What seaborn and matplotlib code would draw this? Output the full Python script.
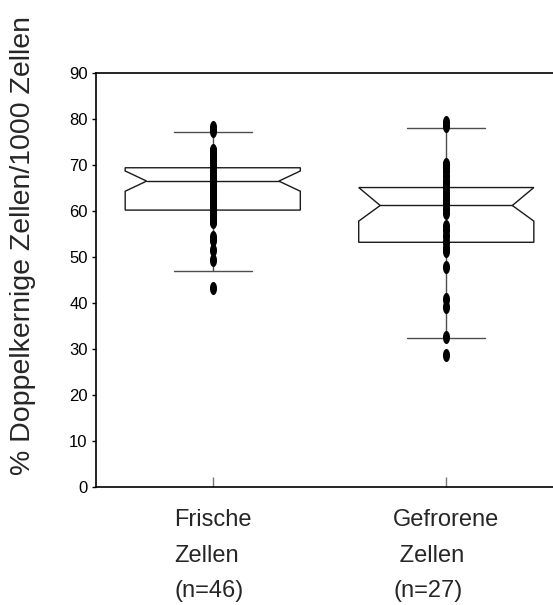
import numpy as np
import pandas as pd
import matplotlib
matplotlib.use("Agg")
import matplotlib.pyplot as plt
from matplotlib.path import Path
import seaborn as sns

# Groups (tick labels) and individual counts per group
groups = ["Frische\nZellen\n(n=46)", "Gefrorene\n Zellen\n(n=27)"]

frische = [78.2, 77.4,
           73.3, 73.0, 72.8, 72.3, 71.8, 71.3, 70.8, 70.3, 70.0, 69.5,
           69.0, 68.7, 68.3, 68.0, 67.6, 67.2, 66.8, 66.5, 66.2, 65.8,
           65.4, 65.0, 64.6, 64.2, 63.8, 63.4, 63.0, 62.5, 62.0, 61.5,
           61.0, 60.5, 60.0, 59.6, 59.2, 58.8, 58.3, 57.9, 57.5,
           54.4, 53.6, 51.5, 49.3, 43.3]

gefroren = [79.3, 78.5,
            70.3, 70.0, 69.5, 68.8, 67.5, 66.5, 66.0, 65.2, 64.2, 63.2,
            62.4, 61.5, 60.5, 59.6,
            56.8, 55.8, 54.5, 53.2, 52.0, 51.2,
            47.8, 40.8, 39.2, 32.6, 28.6]

# Box statistics per group
q1 = [60.2, 53.2]
median = [66.5, 61.2]
q3 = [69.4, 65.1]
notch_lo = [64.3, 57.8]
notch_hi = [68.7, 65.1]
whisker_lo = [47.0, 32.5]
whisker_hi = [77.2, 78.1]

y_ticks = list(range(0, 100, 10))

sns.set_style("ticks")
plt.rcParams["font.family"] = ["Liberation Sans", "DejaVu Sans"]

df = pd.DataFrame({
    "Gruppe": [groups[0]] * len(frische) + [groups[1]] * len(gefroren),
    "Wert": frische + gefroren,
})

fig = plt.figure(figsize=(5.53, 6.05), dpi=100)
ax = fig.add_axes([96 / 553, 118 / 605, 457 / 553, 414 / 605])

half_w = 0.375   # half box width
notch_w = 0.283  # half width at the median notch
cap_w = 0.167    # half whisker cap width
box_col = "#1a1a1a"
whisk_col = "#4d4d4d"

for i in range(len(groups)):
    xs = [i - half_w, i + half_w, i + half_w, i + notch_w, i + half_w,
          i + half_w, i - half_w, i - half_w, i - notch_w, i - half_w, i - half_w]
    ys = [q1[i], q1[i], notch_lo[i], median[i], notch_hi[i],
          q3[i], q3[i], notch_hi[i], median[i], notch_lo[i], q1[i]]
    ax.fill(xs, ys, facecolor="white", edgecolor=box_col, linewidth=1.0, zorder=2)
    ax.plot([i - notch_w, i + notch_w], [median[i], median[i]],
            color=box_col, linewidth=1.0, zorder=2)
    # whiskers and caps
    ax.plot([i, i], [q3[i], whisker_hi[i]], color=whisk_col, linewidth=1.0, zorder=1.5)
    ax.plot([i, i], [q1[i], whisker_lo[i]], color=whisk_col, linewidth=1.0, zorder=1.5)
    for w in (whisker_lo[i], whisker_hi[i]):
        ax.plot([i - cap_w, i + cap_w], [w, w], color=whisk_col, linewidth=1.0, zorder=1.5)

# tall oval marker
t = np.linspace(0, 2 * np.pi, 60)
oval = Path(np.column_stack([0.54 * np.cos(t), np.sin(t)]), closed=True)

sns.stripplot(data=df, x="Gruppe", y="Wert", order=groups, jitter=False,
              marker=oval, size=9.4, color="black", linewidth=0, ax=ax, zorder=3)

ax.set_xlim(-0.5, 1.457)
ax.set_ylim(0, 90)
ax.set_yticks(y_ticks)
ax.set_xlabel("")
ax.set_ylabel("")

for s in ("left", "bottom", "top"):
    ax.spines[s].set_visible(True)
    ax.spines[s].set_linewidth(1.2)
    ax.spines[s].set_color("black")
ax.spines["right"].set_visible(False)

ax.tick_params(axis="y", direction="out", length=3, width=1, pad=3,
               labelsize=12, colors="black")
ax.tick_params(axis="x", direction="in", length=7, width=1, color="#777777",
               pad=16, labelsize=17)
ax.set_xticks(range(len(groups)))
ax.set_xticklabels(groups, multialignment="left", linespacing=1.8)

fig.text(23 / 553, 1 - 246 / 605, "% Doppelkernige Zellen/1000 Zellen",
         rotation=90, ha="center", va="center", fontsize=20.5)

fig.savefig("out.png", dpi=100)
